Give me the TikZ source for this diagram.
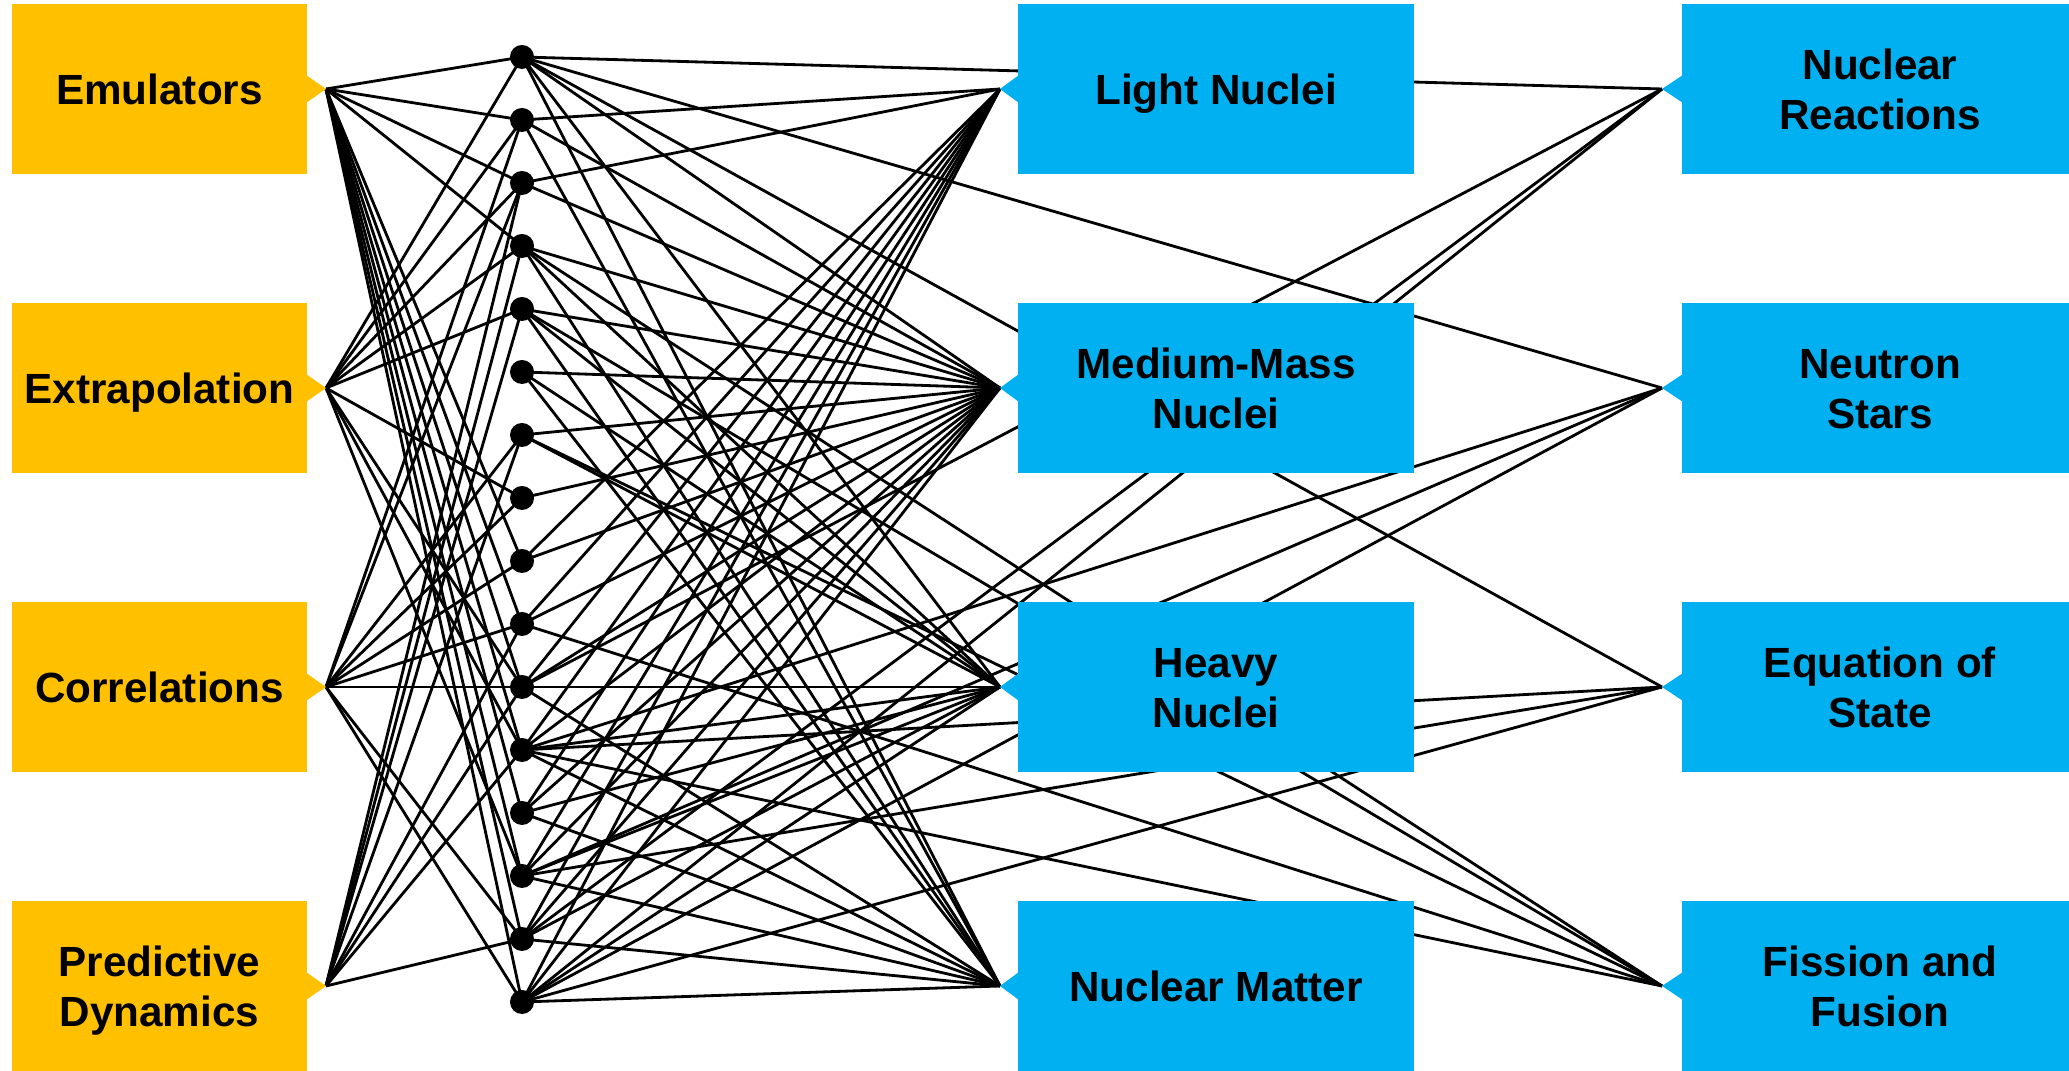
\documentclass[tikz,border=0pt]{standalone}
\usepackage{fontspec}
\setmainfont{Liberation Sans}
\definecolor{taskorange}{HTML}{FFC000}
\definecolor{areablue}{HTML}{00B0F0}
% strut that centres capital letters in a box
\newcommand\lblstrut{\rule[-2.6pt]{0pt}{14.1pt}}
\begin{document}
\begin{tikzpicture}[x=0.01cm,y=-0.01cm,
  box/.style={inner sep=0pt, minimum height=1.70cm, align=center,
    font=\bfseries\fontsize{12}{14.2}\selectfont},
  taskbox/.style={box, fill=taskorange, minimum width=2.95cm},
  areabox/.style={box, fill=areablue, minimum width=3.96cm},
  hub/.style={circle, fill=black, inner sep=0pt, minimum size=0.24cm},
  link/.style={line width=0.8pt, black}]
\useasboundingbox (0,0) rectangle (2069,1071);

% hidden layer of dots
\foreach \k in {1,...,16}
  \coordinate (h\k) at (522,{57+63*(\k-1)});

% tab tips (connector ends)
\foreach \n/\c in {emu/89, ext/388, cor/687, pre/986}
  \coordinate (\n-tip) at (326,\c);
\foreach \n/\c in {light/89, medium/388, heavy/687, matter/986}
  \coordinate (\n-tip) at (1000,\c);
\foreach \n/\c in {reac/89, star/388, eos/687, fis/986}
  \coordinate (\n-tip) at (1662,\c);

% connectors: tasks -> hidden layer
\foreach \k in {1,2,3,4,9,10,11,12,13,14,15,16} \draw[link] (emu-tip) -- (h\k);
\foreach \k in {1,2,3,4,5,8,11,12,14} \draw[link] (ext-tip) -- (h\k);
\foreach \k in {2,3,7,8,9,10,11,15,16} \draw[link] (cor-tip) -- (h\k);
\foreach \k in {3,4,5,7,10,11,12,15} \draw[link] (pre-tip) -- (h\k);

% connectors: hidden layer -> areas
\foreach \k in {2,3,9,10,11,12,13,14,15,16} \draw[link] (h\k) -- (light-tip);
\foreach \k in {1,2,3,4,5,6,7,8,9,10,11,12,13,14,15,16} \draw[link] (h\k) -- (medium-tip);
\foreach \k in {1,4,5,6,7,11,12,13,14,15,16} \draw[link] (h\k) -- (heavy-tip);
\foreach \k in {1,2,4,5,6,11,12,13,14,15,16} \draw[link] (h\k) -- (matter-tip);

% connectors: hidden layer -> applications (they run behind the area boxes)
\foreach \k in {1,11,15,16} \draw[link] (h\k) -- (reac-tip);
\foreach \k in {1,12,14,16} \draw[link] (h\k) -- (star-tip);
\foreach \k in {1,12,14,16} \draw[link] (h\k) -- (eos-tip);
\foreach \k in {4,5,7,10,12} \draw[link] (h\k) -- (fis-tip);

% dots on top of the connectors
\foreach \k in {1,...,16} \node[hub] (dot\k) at (h\k) {};

% task boxes with tabs
\foreach \n/\c/\t in {emu/89/Emulators, ext/388/Extrapolation, cor/687/Correlations, pre/986/{Predictive\lblstrut\\Dynamics}} {
  \fill[taskorange] (306,\c-14) -- (\n-tip) -- (306,\c+14) -- cycle;
  \node[taskbox] (\n) at (159.5,\c) {\lblstrut\t\lblstrut};
}
% area boxes with tabs
\foreach \n/\c/\t in {light/89/{Light Nuclei}, medium/388/{Medium-Mass\lblstrut\\Nuclei}, heavy/687/{Heavy\lblstrut\\Nuclei}, matter/986/{Nuclear Matter}} {
  \fill[areablue] (1019,\c-14) -- (\n-tip) -- (1019,\c+14) -- cycle;
  \node[areabox] (\n) at (1216,\c) {\lblstrut\t\lblstrut};
}
% application boxes with tabs
\foreach \n/\c/\t in {reac/89/{Nuclear\lblstrut\\Reactions}, star/388/{Neutron\lblstrut\\Stars}, eos/687/{Equation of\lblstrut\\State}, fis/986/{Fission and\lblstrut\\Fusion}} {
  \fill[areablue] (1683,\c-14) -- (\n-tip) -- (1683,\c+14) -- cycle;
  \node[areabox] (\n) at (1880,\c) {\lblstrut\t\lblstrut};
}
\end{tikzpicture}
\end{document}
